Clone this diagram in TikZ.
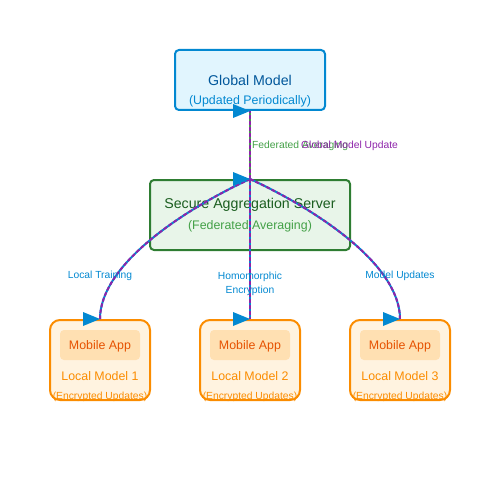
\documentclass[tikz,border=0pt]{standalone}
\usepackage{fontspec}
\setmainfont{Liberation Sans}
\usetikzlibrary{calc}

\definecolor{globfill}{HTML}{E1F5FE}
\definecolor{globline}{HTML}{0288D1}
\definecolor{globtext}{HTML}{01579B}
\definecolor{srvfill}{HTML}{E8F5E9}
\definecolor{srvline}{HTML}{2E7D32}
\definecolor{srvtext}{HTML}{1B5E20}
\definecolor{srvsub}{HTML}{43A047}
\definecolor{mobfill}{HTML}{FFF3E0}
\definecolor{mobline}{HTML}{FB8C00}
\definecolor{appfill}{HTML}{FFE0B2}
\definecolor{apptext}{HTML}{E65100}
\definecolor{flowblue}{HTML}{0288D1}
\definecolor{flowpurple}{HTML}{8E24AA}

\tikzset{
  box/.style={draw, line width=2pt, rounded corners=4pt, inner sep=0pt},
  mobbox/.style={box, draw=mobline, fill=mobfill, rounded corners=10pt,
    minimum width=100pt, minimum height=80pt},
  appbox/.style={fill=appfill, rounded corners=4pt, inner sep=0pt,
    minimum width=80pt, minimum height=30pt},
  bluefeed/.style={draw=flowblue, line width=2pt},
  greenfeed/.style={draw=srvsub, line width=2pt},
  purplefeed/.style={draw=flowpurple, line width=2pt, dash pattern=on 4pt off 2pt},
  edgelabel/.style={inner sep=0pt, font=\fontsize{10.3}{12}\selectfont},
  tipmark/.pic={\fill[flowblue] (0,0) -- (-17,-7) -- (-17,7) -- cycle;}
}

\begin{document}
\begin{tikzpicture}[x=1pt, y=-1pt]
\useasboundingbox (0,0) rectangle (500,500);

% Global model (top)
\node[box, draw=globline, fill=globfill, minimum width=150pt, minimum height=60pt] (glob) at (250,80) {};
\node[text=globtext, font=\fontsize{14.2}{16}\selectfont] (globtitle) at (250,80) {Global Model};
\node[text=globline, font=\fontsize{12.4}{14}\selectfont] (globsub) at (250,101) {(Updated Periodically)};

% Aggregation server (middle)
\node[box, draw=srvline, fill=srvfill, minimum width=200pt, minimum height=70pt] (srv) at (250,215) {};
\node[text=srvtext, font=\fontsize{14.2}{16}\selectfont] (srvtitle) at (250,205) {Secure Aggregation Server};
\node[text=srvsub, font=\fontsize{12.4}{14}\selectfont] (srvsub) at (250,226) {(Federated Averaging)};

% Mobile clients (bottom)
\foreach \i/\x in {1/100, 2/250, 3/400} {
  \node[mobbox] (mob\i) at (\x,360) {};
  \node[appbox] (app\i) at (\x,345) {};
  \node[text=apptext, font=\fontsize{12.4}{14}\selectfont] (apptitle\i) at (\x,346) {Mobile App};
  \node[text=mobline, font=\fontsize{12.4}{14}\selectfont] (local\i) at (\x,376) {Local Model \i};
  \node[text=mobline, font=\fontsize{10.3}{12}\selectfont] (enc\i) at (\x,397) {(Encrypted Updates)};
}

% Server <-> global model
\draw[greenfeed] (srv.north) -- (glob.south);
\draw[purplefeed] (srv.north) -- (glob.south);
\node[edgelabel, text=srvsub, anchor=west] (fedlabel) at (252,146) {Federated Averaging};
\node[edgelabel, text=flowpurple, anchor=west] (updlabel) at (301,146) {Global Model Update};

% Server <-> mobile clients
\draw[bluefeed] (srv.north) .. controls +(-65,30) and +(0,-55) .. (mob1.north);
\draw[purplefeed] (srv.north) .. controls +(-65,30) and +(0,-55) .. (mob1.north);
\draw[bluefeed] (srv.north) -- (mob2.north);
\draw[purplefeed] (srv.north) -- (mob2.north);
\draw[bluefeed] (srv.north) .. controls +(65,30) and +(0,-55) .. (mob3.north);
\draw[purplefeed] (srv.north) .. controls +(65,30) and +(0,-55) .. (mob3.north);

\node[edgelabel, text=flowblue] (trainlabel) at (100,276) {Local Training};
\node[edgelabel, text=flowblue, align=center] (homlabel) at (250,284) {Homomorphic\\[2pt]Encryption};
\node[edgelabel, text=flowblue] (modlabel) at (400,276) {Model Updates};

% Arrow heads
\pic at (glob.south) {tipmark};
\pic at (srv.north) {tipmark};
\pic at (mob1.north) {tipmark};
\pic at (mob2.north) {tipmark};
\pic at (mob3.north) {tipmark};

\end{tikzpicture}
\end{document}
